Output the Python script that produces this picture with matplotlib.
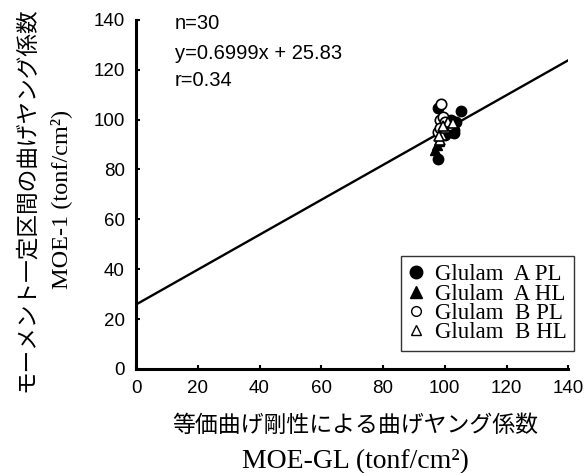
import matplotlib
matplotlib.use("Agg")
import matplotlib.pyplot as plt
import numpy as np
from matplotlib.lines import Line2D

plt.rcParams['font.family'] = ['Liberation Sans', 'Noto Sans CJK JP', 'DejaVu Sans']

# Measured bending stiffness values (tonf/cm2)
a_pl_x = [97.8, 97.8, 105.2, 101.0, 102.0, 103.0, 100.5, 103.5, 102.0, 100.0, 103.0]
a_pl_y = [84.0, 104.5, 103.5, 97.0, 95.0, 96.0, 98.0, 99.0, 100.0, 94.0, 94.5]
a_hl_x = [96.9, 97.5, 98.0, 101.0, 102.0]
a_hl_y = [88.0, 90.0, 91.5, 96.0, 97.5]
b_pl_x = [98.8, 98.5, 99.5, 100.0, 97.8, 98.5, 101.5]
b_pl_y = [106.3, 100.0, 101.0, 99.0, 95.0, 96.5, 98.0]
b_hl_x = [98.5, 99.0, 100.0, 101.0, 98.0, 99.5, 102.5]
b_hl_y = [92.0, 94.0, 96.5, 99.0, 93.5, 97.5, 98.5]

slope = 0.6999
intercept = 25.83
n_samples = 30
r_value = 0.34

x_ticks = [0, 20, 40, 60, 80, 100, 120, 140]
y_ticks = [0, 20, 40, 60, 80, 100, 120, 140]

fig = plt.figure(figsize=(5.85, 4.73), dpi=100)
ax = fig.add_axes([0.2325, 0.22, 0.739, 0.738])

xl = np.array([0, 140])
ax.plot(xl, slope * xl + intercept, color='black', lw=1.7, zorder=2)

ms = 7.5
ax.plot(a_pl_x, a_pl_y, 'o', color='black', ms=ms, zorder=3)
ax.plot(a_hl_x, a_hl_y, '^', color='black', ms=ms, zorder=3)
ax.plot(b_pl_x, b_pl_y, 'o', mfc='white', mec='black', mew=1.2, ms=ms, zorder=4)
ax.plot(b_hl_x, b_hl_y, '^', mfc='white', mec='black', mew=1.2, ms=ms, zorder=4)

ax.set_xlim(0, 140)
ax.set_ylim(0, 140)
ax.set_xticks(x_ticks)
ax.set_yticks(y_ticks)
ax.tick_params(direction='in', length=3, width=1.5, labelsize=13.5, pad=8)
for s in ['top', 'right']:
    ax.spines[s].set_visible(False)
for s in ['left', 'bottom']:
    ax.spines[s].set_linewidth(2.2)

ax.text(0.09, 0.99, f"n={n_samples}", transform=ax.transAxes, fontsize=14.5, va='center')
ax.text(0.09, 0.905, f"y={slope}x + {intercept}", transform=ax.transAxes, fontsize=14.5, va='center')
ax.text(0.09, 0.825, f"r={r_value}", transform=ax.transAxes, fontsize=14.5, va='center')

handles = [
    Line2D([], [], marker='o', ls='', color='black', ms=9),
    Line2D([], [], marker='^', ls='', color='black', ms=9),
    Line2D([], [], marker='o', ls='', mfc='white', mec='black', ms=7),
    Line2D([], [], marker='^', ls='', mfc='white', mec='black', ms=7),
]
labels = ['Glulam  A PL', 'Glulam  A HL', 'Glulam  B PL', 'Glulam  B HL']
leg = fig.legend(handles, labels, loc='lower right', bbox_to_anchor=(0.982, 0.258),
                 prop={'family': 'Liberation Serif', 'size': 16.5}, frameon=True,
                 fancybox=False, edgecolor='black', handlelength=0.6, handletextpad=0.5,
                 labelspacing=-0.08, borderpad=0.35, borderaxespad=0)
leg.get_frame().set_linewidth(1.0)

fig.text(0.046, 0.577, "モーメント一定区間の曲げヤング係数", rotation=90, ha='center', va='center',
         fontsize=16.3, family=['Noto Sans CJK JP', 'DejaVu Sans'])
fig.text(0.104, 0.578, "MOE-1 (tonf/cm²)", rotation=90, ha='center', va='center',
         fontsize=17.5, family=['Liberation Serif', 'DejaVu Serif'])
fig.text(0.607, 0.0994, "等価曲げ剛性による曲げヤング係数", ha='center', va='center',
         fontsize=16.5, family=['Noto Sans CJK JP', 'DejaVu Sans'])
fig.text(0.607, 0.0106, "MOE-GL (tonf/cm²)", ha='center', va='baseline',
         fontsize=20, family=['Liberation Serif', 'DejaVu Serif'])

fig.savefig("out.png", dpi=100)
